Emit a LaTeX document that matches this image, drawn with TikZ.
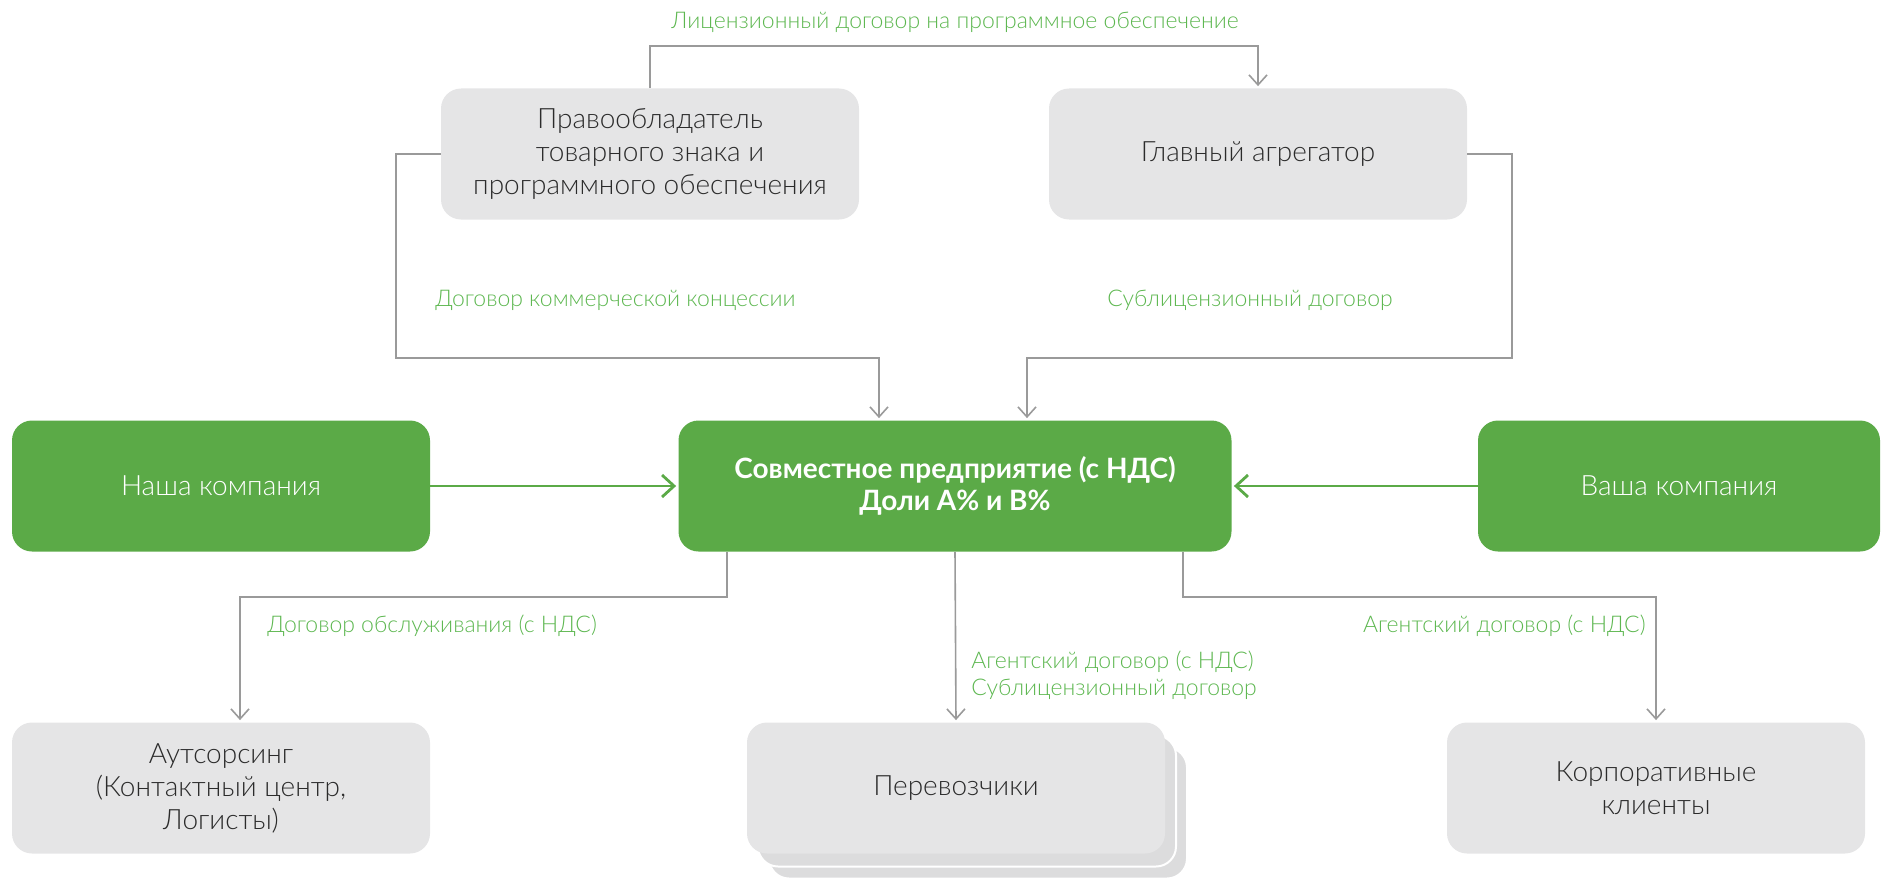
\documentclass[tikz,border=0pt]{standalone}
\usepackage{fontspec}
\setmainfont{Lato Light}[BoldFont={Lato Bold}]
\usepackage{xcolor}
\usepackage{tikz}
\usetikzlibrary{positioning, arrows.meta}

\definecolor{boxgreen}{HTML}{5BAA47}
\definecolor{boxgray}{HTML}{E5E5E6}
\definecolor{linegray}{HTML}{9A9A9A}
\definecolor{lblgreen}{HTML}{5DB750}
\definecolor{txtdark}{HTML}{2B2B2B}

\begin{document}
\begin{tikzpicture}[
  x=0.5pt, y=-0.5pt,
  every node/.style={inner sep=2pt},
  graybox/.style={rectangle, rounded corners=10pt, fill=boxgray, text=txtdark,
    minimum width=209pt, minimum height=65.5pt, align=center,
    font=\fontsize{14}{16.5}\selectfont},
  greenbox/.style={graybox, fill=boxgreen, text=white},
  stackbox/.style={graybox, fill=boxgray!96!black, draw=white, line width=1pt},
  lbl/.style={font=\fontsize{11.5}{13.5}\selectfont, text=lblgreen},
  conn/.style={-{Straight Barb[length=5pt, width=9pt]}, linegray, line width=0.8pt,
    shorten >=1pt},
  gconn/.style={-{Straight Barb[length=6pt, width=11pt]}, boxgreen, line width=1.4pt,
    shorten >=1pt}
]
\useasboundingbox (0,0) rectangle (1883,883);

% Top row
\node[graybox] (pravo) at (650,154)
  {Правообладатель\\товарного знака и\\программного обеспечения};
\node[graybox] (glav) at (1258,154) {Главный агрегатор};

% Middle row
\node[greenbox] (nasha) at (221,486) {Наша компания};
\node[greenbox, minimum width=276.5pt, font=\bfseries\fontsize{14}{16}\selectfont]
  (sp) at (955,486) {Совместное предприятие (с НДС)\\Доли А\% и В\%};
\node[greenbox, minimum width=201pt] (vasha) at (1679,486) {Ваша компания};

% Bottom row
\node[graybox] (outs) at (221,788)
  {Аутсорсинг\\(Контактный центр,\\Логисты)};
\node[stackbox] (perevB) at (978,813) {};
\node[stackbox] (perevA) at (967,801) {};
\node[graybox] (perev) at (956,788) {Перевозчики};
\node[graybox] (corp) at (1656,788) {Корпоративные\\клиенты};

% Contracts above
\coordinate (lic) at (955,46);
\draw[conn] (pravo.north) |- (lic) -| (glav.north);
\node[lbl] (a_lic) at (955,22) {Лицензионный договор на программное обеспечение};

\coordinate (kk) at (396,358);
\draw[conn] (pravo.west) -| (kk) -| ([xshift=-38pt]sp.north);
\node[lbl, anchor=west] (a_kk) at (431,300) {Договор коммерческой концессии};

\coordinate (sub) at (1512,358);
\draw[conn] (glav.east) -| (sub) -| ([xshift=36pt]sp.north);
\node[lbl] (a_sub) at (1250,300) {Сублицензионный договор};

% Partners
\draw[gconn] (nasha) -- (sp);
\draw[gconn] (vasha) -- (sp);

% Contracts below
\coordinate (obsl) at (727,597);
\draw[conn] ([xshift=-114pt]sp.south) -- (obsl) -| ([xshift=9.5pt]outs.north);
\node[lbl, anchor=west] (a_obsl) at (263,626) {Договор обслуживания (с НДС)};

\draw[conn] (sp.south) -- (perev.north);
\node[lbl, anchor=west, align=left] (a_perev) at (967,675)
  {Агентский договор (с НДС)\\Сублицензионный договор};

\coordinate (agent) at (1183,597);
\draw[conn] ([xshift=114pt]sp.south) -- (agent) -| (corp.north);
\node[lbl, anchor=east] (a_corp) at (1650,626) {Агентский договор (с НДС)};

\end{tikzpicture}
\end{document}
